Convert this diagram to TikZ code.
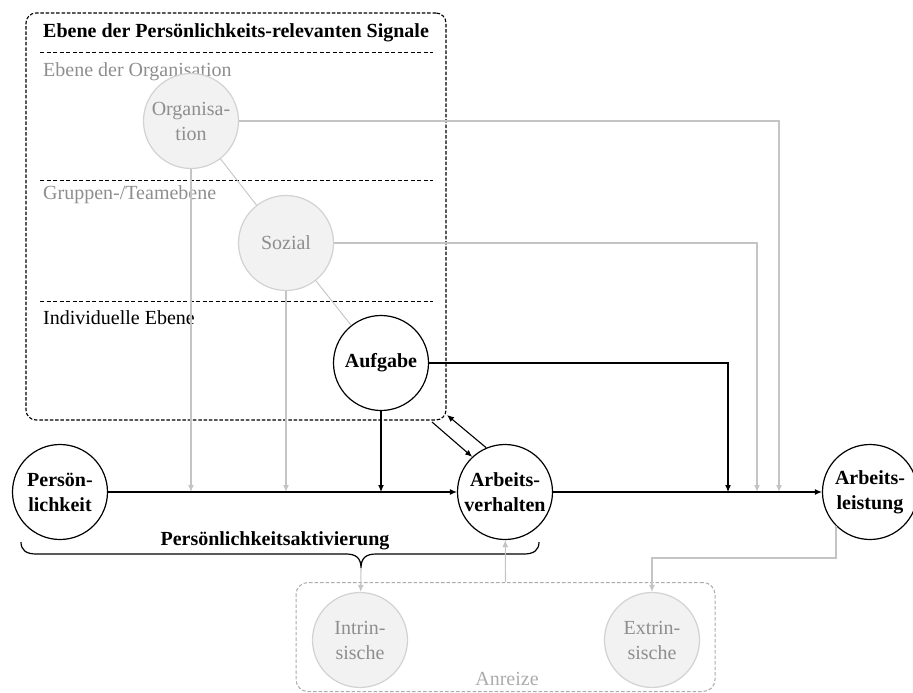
\documentclass[tikz,border=0pt]{standalone}
\usepackage{fontspec}
\setmainfont{Liberation Serif}
\usetikzlibrary{arrows.meta}
\definecolor{lightline}{HTML}{C4C4C4}
\definecolor{softfill}{HTML}{F2F2F2}
\definecolor{softedge}{HTML}{D2D2D2}
\definecolor{softtext}{HTML}{8E8E8E}
\definecolor{faint}{HTML}{ABABAB}
\begin{document}
\begin{tikzpicture}[x=1pt,y=-1pt,
  font=\fontsize{20}{25}\selectfont,
  mainnode/.style={circle, draw=black, line width=1.2pt, fill=white, minimum size=95pt,
    inner sep=0pt, align=center, font=\fontsize{20}{25}\selectfont\bfseries},
  softnode/.style={circle, draw=softedge, line width=1.2pt, fill=softfill, minimum size=95pt,
    inner sep=0pt, align=center, text=softtext},
  flow/.style={line width=1.1pt, -{Latex[length=7pt,width=6pt]}},
  softflow/.style={draw=lightline, line width=1.1pt, -{Latex[length=7pt,width=6pt]}},
  softlink/.style={draw=lightline, line width=0.9pt},
  levelsep/.style={dash pattern=on 4pt off 2.5pt, line width=1pt},
  levellabel/.style={anchor=west, inner sep=0pt},
]
\useasboundingbox (0,0) rectangle (913,693);

% signal levels frame
\node[draw, dash pattern=on 3.5pt off 1.8pt, line width=1.1pt, rounded corners=10pt,
  minimum width=420pt, minimum height=407pt, inner sep=0pt] (sigbox) at (236,216.5) {};
\node[levellabel, font=\fontsize{20}{25}\selectfont\bfseries] (title) at (43,33)
  {Ebene der Persönlichkeits-relevanten Signale};
\coordinate (s1a) at (40,53);  \coordinate (s1b) at (433,53);
\coordinate (s2a) at (40,180); \coordinate (s2b) at (433,180);
\coordinate (s3a) at (40,301); \coordinate (s3b) at (433,301);
\draw[levelsep] (s1a) -- (s1b);
\draw[levelsep] (s2a) -- (s2b);
\draw[levelsep] (s3a) -- (s3b);
\node[levellabel, text=softtext] (lorg) at (43,72) {Ebene der Organisation};
\node[levellabel, text=softtext] (lgrp) at (43,195) {Gruppen-/Teamebene};
\node[levellabel] (lind) at (43,318) {Individuelle Ebene};

% incentives frame
\node[draw=faint, dash pattern=on 3.5pt off 2pt, line width=1pt, rounded corners=12pt,
  minimum width=419pt, minimum height=109pt, inner sep=0pt] (anreize) at (505.5,637) {};
\node[text=faint] (anrlabel) at (507,679) {Anreize};

% nodes
\node[softnode] (org) at (191,121) {Organisa-\\tion};
\node[softnode] (soz) at (286,243) {Sozial};
\node[mainnode] (auf) at (381,363) {Aufgabe};
\node[mainnode] (pers) at (60,492) {Persön-\\lichkeit};
\node[mainnode] (av) at (505,492) {Arbeits-\\verhalten};
\node[mainnode] (leist) at (870,492) {Arbeits-\\leistung};
\node[softnode] (intr) at (360,640) {Intrin-\\sische};
\node[softnode] (extr) at (652,640) {Extrin-\\sische};

% links between the signal levels
\draw[softlink] (org) -- (soz);
\draw[softlink] (soz) -- (auf);

% drop points on the main paths
\coordinate (d1) at (191,492);
\coordinate (d2) at (286,492);
\coordinate (d3) at (381,492);
\coordinate (e1) at (728,492);
\coordinate (e2) at (757,492);
\coordinate (e3) at (779,492);

\draw[softflow] (org) -- (d1);
\draw[softflow] (soz) -- (d2);
\draw[flow] (auf) -- (d3);
\draw[softflow] (org.east) -| (e3);
\draw[softflow] (soz.east) -| (e2);
\draw[flow] (auf.east) -| (e1);

% main causal chain
\draw[flow] (pers) -- (av);
\draw[flow] (av) -- (leist);

% feedback between behaviour and the signal frame
\coordinate (fbout) at (432,422);
\coordinate (fbin) at (447,415);
\draw[flow] (fbout) -- (av.133);
\draw[flow] (av.113) -- (fbin);

% personality activation brace
\coordinate (bracetip) at (361,568);
\draw[line width=1.2pt] (21,542) .. controls (21,550) and (26,554) .. (36,554)
  -- (346,554) .. controls (356,554) and (361,558) .. (bracetip)
  .. controls (361,558) and (366,554) .. (376,554)
  -- (524,554) .. controls (534,554) and (539,550) .. (539,542);
\node[font=\fontsize{20}{25}\selectfont\bfseries] (aktiv) at (275,541) {Persönlichkeitsaktivierung};

% incentive arrows
\draw[softflow] (bracetip) -- (intr);
\draw[softflow] (anreize.north) -- (av);
\coordinate (elbow) at (837,558);
\draw[softflow] (leist.south west) -- (leist.south west |- elbow) -| (extr);
\end{tikzpicture}
\end{document}
